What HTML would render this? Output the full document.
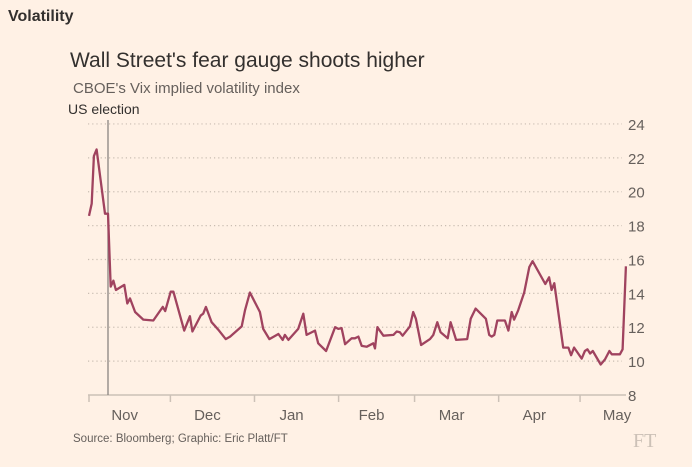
<!DOCTYPE html>
<html><head><meta charset="utf-8"><style>
body{margin:0;background:#fff1e5;width:692px;height:467px;overflow:hidden;font-family:"Liberation Sans",sans-serif}
svg{position:absolute;left:0;top:0}
</style></head><body>
<svg width="692" height="467">
<text x="8" y="21" font-size="16" font-weight="bold" fill="#33302e">Volatility</text>
<text x="70" y="67" font-size="21" fill="#33302e">Wall Street's fear gauge shoots higher</text>
<text x="73" y="93" font-size="15" fill="#66605c">CBOE's Vix implied volatility index</text>
<g id="grid"></g>
<g id="yt"></g>
<g id="xt"></g>
<line x1="108" y1="120" x2="108" y2="395" stroke="#8a8580" stroke-width="1.3"/>
<text x="68" y="114" font-size="14" fill="#33302e">US election</text>
<path id="line" fill="none" stroke="#a0435f" stroke-width="2.3" stroke-linejoin="round"/>
<text x="73" y="442" font-size="11.5" fill="#66605c">Source: Bloomberg; Graphic: Eric Platt/FT</text>
<text x="633" y="447" font-size="20" font-family="Liberation Serif,serif" fill="#ccc1b7">FT</text>
</svg>
<script>
const days=[0,1,1.8,2.8,5.9,7,8,9,9.9,13,14.1,15.1,17,20,23.7,27.2,28.1,30.1,31.1,35.1,37.2,38.1,41.2,42.1,43.1,45.2,47.7,50.4,52,56.3,57.5,59.3,63,64.2,66.5,69.8,71.4,72.2,73.5,77.1,79,80.2,83.3,84.5,87.4,90.7,91.9,93.1,94.4,96.8,98,99.3,100.5,102.4,104.8,105.4,106.3,108.5,112.2,113.4,114.6,115.6,118.3,119.5,120.5,122.4,125.7,126.9,128.4,129.6,132.2,133.3,135.3,139.4,140.7,142.5,146.3,147.5,148.4,149.4,150.5,153.3,154.6,155.8,156.7,158.2,160.4,162.3,163.5,168.2,169.6,170.5,171.5,174.8,176.7,177.7,178.8,181.6,182.8,183.7,184.7,185.7,188.6,190.2,191.8,192.7,195.7,196.7,197.9];
const vix=[18.57,19.3,22.1,22.5,18.7,18.7,14.4,14.75,14.2,14.5,13.4,13.7,12.9,12.45,12.4,13.2,12.95,14.1,14.1,11.8,12.65,11.75,12.7,12.8,13.2,12.3,11.85,11.3,11.45,12.05,13.0,14.05,12.9,11.9,11.3,11.6,11.25,11.55,11.25,11.9,12.8,11.55,11.8,11.05,10.6,12.0,11.9,11.95,11.0,11.35,11.35,11.45,10.9,10.85,11.05,10.75,12.0,11.5,11.55,11.75,11.7,11.5,12.05,12.9,12.5,10.95,11.3,11.55,12.3,11.7,11.35,12.3,11.25,11.3,12.5,13.1,12.5,11.55,11.45,11.55,12.4,12.4,11.8,12.9,12.45,13.0,14.05,15.55,15.9,14.55,14.95,14.2,14.6,10.8,10.8,10.35,10.8,10.15,10.6,10.7,10.45,10.6,9.8,10.1,10.6,10.4,10.4,10.7,15.6];
const yTicks=[8,10,12,14,16,18,20,22,24];
const monthLabels=["Nov","Dec","Jan","Feb","Mar","Apr","May"];
const monthStarts=[0,30,61,92,120,151,181];
const X=d=>89+d*2.713, Y=v=>395-(v-8)*16.94;
const ns="http://www.w3.org/2000/svg";
function mk(t,a,p){const e=document.createElementNS(ns,t);for(const k in a)e.setAttribute(k,a[k]);p.appendChild(e);return e;}
const grid=document.getElementById('grid'),yt=document.getElementById('yt'),xt=document.getElementById('xt');
yTicks.forEach(v=>{
 if(v>8){const l=mk('line',{x1:88,x2:622,y1:Y(v),y2:Y(v),stroke:'#c9bdb2','stroke-dasharray':'1.2 3','stroke-width':1.2},grid);
 
 }
 const t=mk('text',{x:628,y:Y(v)+6,'font-size':15,fill:'#66605c'},yt);t.textContent=v;
 
 
});
const ax=mk('line',{x1:88,x2:626,y1:395,y2:395,stroke:'#ccc1b7','stroke-width':1.5},xt);


monthStarts.forEach((d,i)=>{
 const tk=mk('line',{x1:X(d),x2:X(d),y1:395,y2:402,stroke:'#ccc1b7','stroke-width':1.5},xt);
 
 
 const cx=i<monthStarts.length-1?(X(d)+X(monthStarts[i+1]))/2-5:X(d)+37;
 const t=mk('text',{x:cx,y:420,'font-size':15,fill:'#66605c','text-anchor':'middle'},xt);
 t.textContent=monthLabels[i];
 
 
});
document.getElementById('line').setAttribute('d',days.map((d,i)=>(i?'L':'M')+X(d).toFixed(1)+','+Y(vix[i]).toFixed(1)).join(''));
</script>
</body></html>
